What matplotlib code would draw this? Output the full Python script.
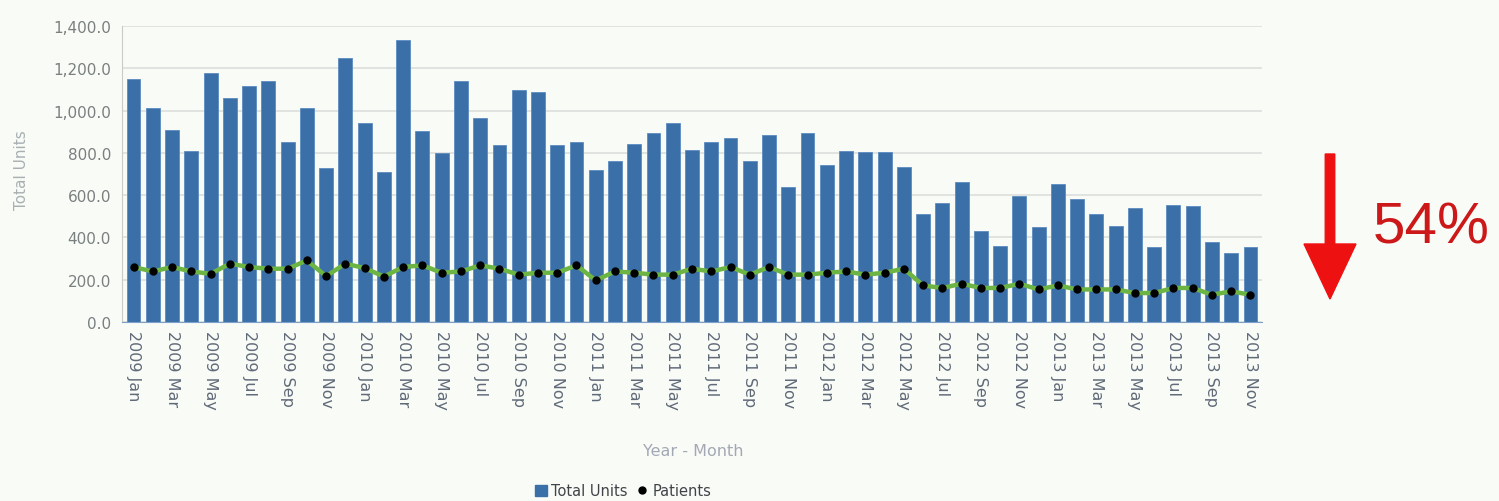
import matplotlib
matplotlib.use("Agg")
import matplotlib.pyplot as plt
from matplotlib.patches import FancyArrow, Patch
from matplotlib.lines import Line2D
from matplotlib.ticker import FuncFormatter

years = [2009, 2010, 2011, 2012, 2013]
month_names = ["Jan", "Feb", "Mar", "Apr", "May", "Jun", "Jul", "Aug", "Sep", "Oct", "Nov", "Dec"]
months = [f"{y} {m}" for y in years for m in month_names][:59]

total_units = [1150, 1012, 908, 807, 1178, 1061, 1115, 1142, 850, 1012, 728, 1247,
               941, 711, 1335, 905, 800, 1142, 965, 837, 1097, 1089, 837, 850,
               719, 763, 842, 894, 940, 815, 850, 869, 763, 885, 637, 894,
               744, 810, 802, 802, 731, 511, 563, 664, 432, 361, 597, 451,
               653, 582, 511, 456, 538, 353, 555, 547, 380, 326, 353]
patients = [260, 239, 260, 239, 228, 276, 260, 252, 252, 291, 217, 276,
            255, 215, 260, 268, 233, 239, 268, 252, 224, 233, 233, 268,
            197, 239, 233, 224, 224, 252, 239, 260, 224, 260, 224, 224,
            233, 239, 224, 233, 252, 173, 161, 181, 161, 161, 181, 154,
            173, 154, 154, 154, 137, 137, 161, 161, 129, 145, 129]

bg = "#f9fbf7"
W, H = 1499, 502
fig = plt.figure(figsize=(W / 100, H / 100), dpi=100, facecolor=bg)
ax = fig.add_axes([122 / W, 1 - 323 / H, (1262 - 122) / W, (323 - 27) / H], facecolor=bg)

x = list(range(len(months)))
ax.bar(x, total_units, width=0.72, color="#3b6fa7", edgecolor="#5b8cc0", linewidth=0.6, zorder=2)
ax.plot(x, patients, color="#6cb444", lw=3.2, zorder=3, solid_capstyle="round")
ax.plot(x, patients, linestyle="none", marker="o", ms=5, color="black", zorder=4)

ax.set_xlim(-0.6, len(months) - 0.4)
ax.set_ylim(0, 1400)
ax.set_yticks(range(0, 1401, 200))
ax.yaxis.set_major_formatter(FuncFormatter(lambda v, p: f"{v:,.1f}"))
ax.grid(axis="y", color="#dcdfdc", lw=1.2, zorder=0)
ax.set_axisbelow(True)

ax.set_xticks(x[::2])
ax.set_xticklabels(months[::2], rotation=270, fontsize=11.5, color="#606a78", va="top", ha="center")
ax.tick_params(axis="x", length=0, pad=6)
ax.tick_params(axis="y", length=0, pad=8, labelsize=11, labelcolor="#7a7f80")

for s in ["top", "right"]:
    ax.spines[s].set_visible(False)
ax.spines["left"].set_color("#c8ccc8")
ax.spines["bottom"].set_color("#7fa0c8")

fig.text(22 / W, 1 - 170 / H, "Total Units", rotation=90, ha="center", va="center",
         fontsize=11, color="#a8b0b2")
fig.text(693 / W, 1 - 452 / H, "Year - Month", ha="center", va="center",
         fontsize=11.5, color="#a4a8b4")

handles = [Patch(facecolor="#3b6fa7", edgecolor="#3b6fa7"),
           Line2D([], [], linestyle="none", marker="o", ms=5, color="black")]
fig.legend(handles, ["Total Units", "Patients"], loc="center",
           bbox_to_anchor=(623 / W, 1 - 492 / H), ncol=2, frameon=False,
           fontsize=10.5, handlelength=0.8, handletextpad=0.3, columnspacing=0.6,
           labelcolor="#404448")

arrow = FancyArrow(13.30, (H - 155) / 100, 0, -1.45, width=0.095, head_width=0.52,
                   head_length=0.55, length_includes_head=True, color="#ee1111",
                   transform=fig.dpi_scale_trans)
fig.patches.append(arrow)
fig.text(1431 / W, 1 - 229 / H, "54%", ha="center", va="center", fontsize=42,
         color="#cc1818", family="Liberation Sans")

fig.savefig("out.png", dpi=100, facecolor=bg)
